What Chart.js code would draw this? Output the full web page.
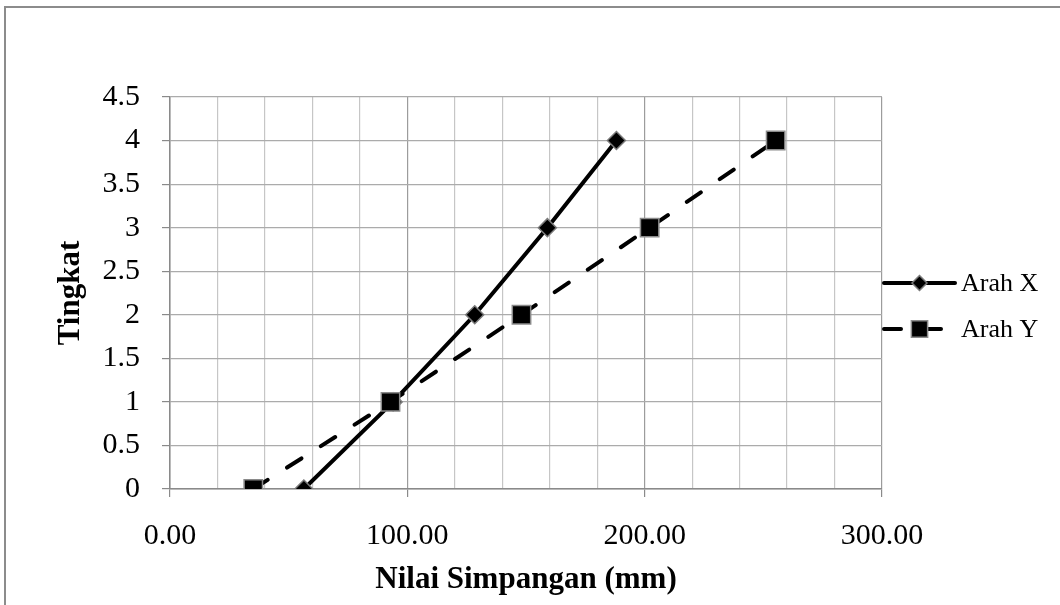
<!DOCTYPE html>
<html>
<head>
<meta charset="utf-8">
<script src="https://cdn.jsdelivr.net/npm/chart.js@4.4.1/dist/chart.umd.min.js"></script>
<style>
  html, body { margin: 0; padding: 0; background: #fff; }
  #wrap { position: relative; width: 1060px; height: 605px; overflow: hidden; }
  #frame { position: absolute; left: 4px; top: 6px; width: 1100px; height: 700px; border: 2px solid #8c8c8c; box-sizing: border-box; }
  #chart { position: absolute; left: 0; top: 0; }
</style>
</head>
<body>
<div id="wrap">
  <div id="frame"></div>
  <canvas id="chart" width="1060" height="605"></canvas>
</div>
<script>
// --- data ---
const tingkat = [0, 1, 2, 3, 4];
const simpanganX = [56.4, 94.0, 128.4, 159.0, 188.1];
const simpanganY = [35.1, 92.9, 148.1, 202.1, 255.2];
const seriesNames = ['Arah X', 'Arah Y'];

function toPoints(xs) {
    return xs.map(function (v, i) { return { x: v, y: tingkat[i] }; });
}

const serif = 'Liberation Serif, Times New Roman, serif';

// legend drawn by hand: line sample + marker + label, to the right of the plot
const lineLegend = {
    id: 'lineLegend',
    afterDraw: function (chart) {
        const ctx = chart.ctx;
        const area = chart.chartArea;
        const x0 = area.right + 2;
        const x1 = x0 + 71;
        const rows = [area.top + 186, area.top + 232];
        chart.data.datasets.forEach(function (ds, i) {
            const y = rows[i];
            ctx.save();
            ctx.strokeStyle = ds.borderColor;
            ctx.lineWidth = ds.borderWidth;
            ctx.lineCap = 'round';
            ctx.setLineDash(ds.borderDash || []);
            ctx.beginPath();
            ctx.moveTo(x0, y);
            ctx.lineTo(x1, y);
            ctx.stroke();
            ctx.setLineDash([]);
            ctx.fillStyle = ds.pointBackgroundColor;
            ctx.strokeStyle = ds.pointBorderColor;
            ctx.lineWidth = ds.pointBorderWidth;
            Chart.helpers.drawPoint(ctx, {
                pointStyle: ds.pointStyle,
                radius: ds.pointStyle === 'rect' ? 11.5 : 7.5,
                rotation: 0,
                borderWidth: ds.pointBorderWidth
            }, (x0 + x1) / 2, y);
            ctx.fillStyle = '#000';
            ctx.font = '26px ' + serif;
            ctx.textAlign = 'left';
            ctx.textBaseline = 'middle';
            ctx.fillText(ds.label, x1 + 6, y + 1);
            ctx.restore();
        });
    }
};

const ctxChart = document.getElementById('chart').getContext('2d');
new Chart(ctxChart, {
    type: 'scatter',
    data: {
        datasets: [{
            label: seriesNames[0],
            data: toPoints(simpanganX),
            showLine: true,
            borderColor: '#000',
            borderWidth: 4,
            borderCapStyle: 'round',
            pointStyle: 'rectRot',
            pointRadius: 9,
            pointBackgroundColor: '#000',
            pointBorderColor: '#7a7a7a',
            pointBorderWidth: 1.5,
            order: 1
        }, {
            label: seriesNames[1],
            data: toPoints(simpanganY),
            showLine: true,
            borderColor: '#000',
            borderWidth: 4,
            borderDash: [17, 23],
            borderCapStyle: 'round',
            pointStyle: 'rect',
            pointRadius: 13,
            pointBackgroundColor: '#000',
            pointBorderColor: '#8a8a8a',
            pointBorderWidth: 1.5,
            order: 0
        }]
    },
    options: {
        responsive: false,
        animation: false,
        layout: { padding: { left: 10, top: 97, right: 178, bottom: 0 } },
        plugins: {
            legend: { display: false },
            tooltip: { enabled: false }
        },
        scales: {
            x: {
                type: 'linear',
                min: 0,
                max: 300,
                afterFit: function (scale) { scale.height = 116; },
                border: { color: '#8a8a8a', width: 1.5 },
                grid: {
                    color: function (c) { return c.tick && c.tick.value % 100 === 0 ? '#9c9c9c' : '#c6c6c6'; },
                    tickColor: function (c) { return c.tick && c.tick.value % 100 === 0 ? '#8a8a8a' : 'rgba(0,0,0,0)'; },
                    lineWidth: 1.2,
                    tickLength: 8
                },
                ticks: {
                    stepSize: 20,
                    autoSkip: false,
                    maxRotation: 0,
                    padding: 21,
                    color: '#000',
                    font: { family: serif, size: 30 },
                    callback: function (v) { return v % 100 === 0 ? v.toFixed(2) : ''; }
                },
                title: {
                    display: true,
                    text: 'Nilai Simpangan (mm)',
                    color: '#000',
                    font: { family: serif, size: 31, weight: 'bold' },
                    padding: { top: 0, bottom: 6 }
                }
            },
            y: {
                min: 0,
                max: 4.5,
                afterFit: function (scale) { scale.width = 160; },
                border: { color: '#8a8a8a', width: 1.5 },
                grid: {
                    color: '#ababab',
                    tickColor: '#8a8a8a',
                    lineWidth: 1.2,
                    tickLength: 8
                },
                ticks: {
                    stepSize: 0.5,
                    padding: 22,
                    color: '#000',
                    font: { family: serif, size: 30 },
                    callback: function (v) { return String(v); }
                },
                title: {
                    display: true,
                    text: 'Tingkat',
                    color: '#000',
                    font: { family: serif, size: 31, weight: 'bold' },
                    padding: { top: 42, bottom: 0 }
                }
            }
        }
    },
    plugins: [lineLegend]
});
</script>
</body>
</html>
